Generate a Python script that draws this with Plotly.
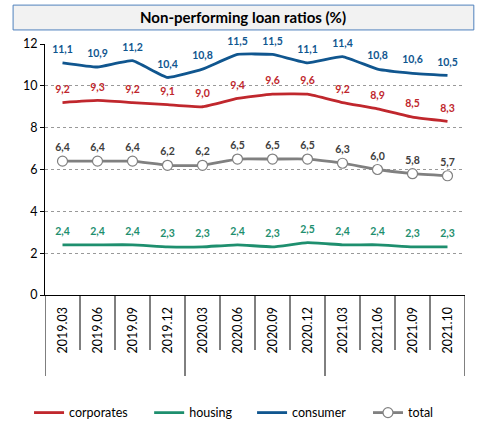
import plotly.graph_objects as go

categories = ["2019.03", "2019.06", "2019.09", "2019.12", "2020.03", "2020.06",
              "2020.09", "2020.12", "2021.03", "2021.06", "2021.09", "2021.10"]
corporates = [9.2, 9.3, 9.2, 9.1, 9.0, 9.4, 9.6, 9.6, 9.2, 8.9, 8.5, 8.3]
housing = [2.4, 2.4, 2.4, 2.3, 2.3, 2.4, 2.3, 2.5, 2.4, 2.4, 2.3, 2.3]
consumer = [11.1, 10.9, 11.2, 10.4, 10.8, 11.5, 11.5, 11.1, 11.4, 10.8, 10.6, 10.5]
total = [6.4, 6.4, 6.4, 6.2, 6.2, 6.5, 6.5, 6.5, 6.3, 6.0, 5.8, 5.7]
y_ticks = [0, 2, 4, 6, 8, 10, 12]

FONT = "Lato"
RED = "#c0272d"
GREEN = "#1e8f6e"
BLUE = "#10568f"
GRAY = "#808080"

fig = go.Figure()

def add_line(name, vals, color, textcolor, legend, marker=False):
    if marker:
        mk = dict(symbol="circle", size=10, color="white", line=dict(color=GRAY, width=1.2))
    else:
        mk = dict(symbol="circle", size=10, color="rgba(0,0,0,0)", line=dict(width=0))
    fig.add_trace(go.Scatter(
        x=categories, y=vals, name=name, legend=legend,
        mode="lines+markers+text",
        line=dict(color=color, width=2.8, shape="spline", smoothing=0.35),
        marker=mk,
        text=vals, texttemplate="%{y:.1f}", textposition="top center",
        textfont=dict(family=FONT, size=10.5, color=textcolor, weight="bold"),
        cliponaxis=False,
    ))

add_line("corporates", corporates, RED, RED, "legend")
add_line("housing", housing, GREEN, GREEN, "legend2")
add_line("consumer", consumer, BLUE, BLUE, "legend3")
add_line("total", total, GRAY, "#404040", "legend4", marker=True)

shapes = []
# category tick marks (multi-level style)
for i in range(len(categories) + 1):
    long = i in (0, 4, 8, 12)
    shapes.append(dict(type="line", xref="x", yref="paper", x0=i - 0.5, x1=i - 0.5,
                       ysizemode="pixel", yanchor=0, y0=0, y1=-(81 if long else 55),
                       line=dict(color="#000000", width=1)))
# title box
shapes.append(dict(type="rect", xref="paper", yref="paper",
                   x0=-0.076, x1=1.021, y0=1.056, y1=1.155,
                   fillcolor="#f2f2f2", line=dict(color="#4f81bd", width=1), layer="below"))

def leg(x):
    return dict(orientation="h", x=x, xanchor="left", y=-0.47, yanchor="middle",
                font=dict(family=FONT, size=12.5, color="#000000"),
                itemwidth=30, bgcolor="rgba(0,0,0,0)")

fig.update_layout(
    width=481, height=423,
    margin=dict(l=45, r=16, t=44, b=128, autoexpand=False),
    paper_bgcolor="white", plot_bgcolor="white",
    separators=",.",
    font=dict(family=FONT, color="#000000"),
    showlegend=True,
    legend=leg(-0.038), legend2=leg(0.248), legend3=leg(0.493), legend4=leg(0.769),
    shapes=shapes,
    annotations=[dict(text="<b>Non-performing loan ratios (%)</b>", xref="paper", yref="paper",
                      x=0.471, y=1.106, xanchor="center", yanchor="middle", showarrow=False,
                      font=dict(family=FONT, size=15, color="#000000"))],
)

fig.update_xaxes(
    type="category", categoryorder="array", categoryarray=categories,
    range=[-0.5, 11.5], showgrid=False, showline=True, linecolor="#000000", linewidth=1,
    ticks="outside", ticklen=6, tickcolor="rgba(0,0,0,0)", tickangle=-90,
    tickfont=dict(family=FONT, size=12.5, color="#000000"), zeroline=False,
)
fig.update_yaxes(
    range=[0, 12], tickvals=y_ticks, showgrid=True, gridcolor="#999999", griddash="dot",
    gridwidth=1, showline=True, linecolor="#000000", linewidth=1,
    ticks="outside", ticklen=4, tickcolor="#000000",
    tickfont=dict(family=FONT, size=12.5, color="#000000"), zeroline=False,
)

fig.write_html("out.html", config={"displayModeBar": False},
               post_script="document.body.style.margin='0';")
